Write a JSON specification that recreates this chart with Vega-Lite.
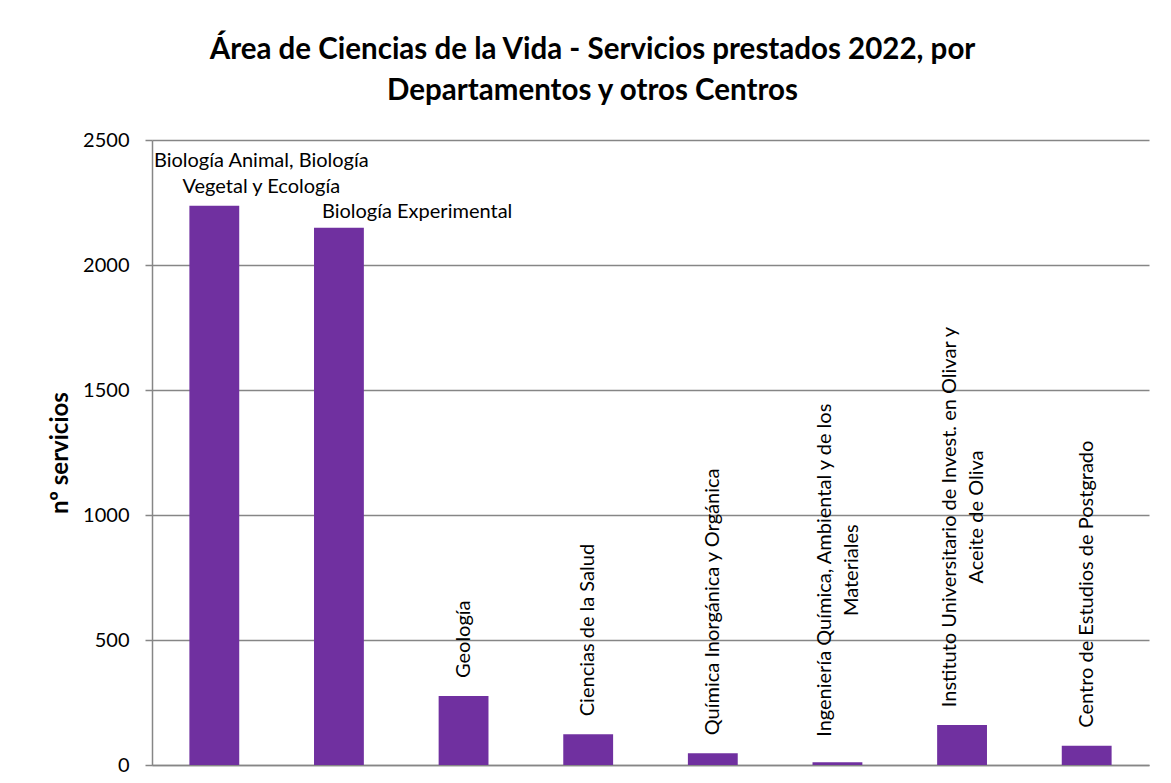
{
  "$schema": "https://vega.github.io/schema/vega-lite/v6.json",
  "width": 997,
  "height": 625,
  "autosize": {"type": "none"},
  "padding": {"left": 152, "top": 140, "right": 22, "bottom": 18},
  "background": "white",
  "config": {"view": {"stroke": null}, "font": "Lato"},
  "title": {
    "text": ["Área de Ciencias de la Vida - Servicios prestados 2022, por", "Departamentos y otros Centros"],
    "font": "Lato",
    "fontSize": 29.5,
    "fontWeight": "bold",
    "color": "#000000",
    "anchor": "middle",
    "frame": "group",
    "dx": -58,
    "lineHeight": 41,
    "offset": 24
  },
  "data": {
    "values": [
      {"dep": "Biología Animal, Biología Vegetal y Ecología", "label": "Biología Animal, Biología\nVegetal y Ecología", "n": 2237},
      {"dep": "Biología Experimental", "label": "Biología Experimental", "n": 2149},
      {"dep": "Geología", "label": "Geología", "n": 276},
      {"dep": "Ciencias de la Salud", "label": "Ciencias de la Salud", "n": 123},
      {"dep": "Química Inorgánica y Orgánica", "label": "Química Inorgánica y Orgánica", "n": 47},
      {"dep": "Ingeniería Química, Ambiental y de los Materiales", "label": "Ingeniería Química, Ambiental y de los\nMateriales", "n": 11},
      {"dep": "Instituto Universitario de Invest. en Olivar y Aceite de Oliva", "label": "Instituto Universitario de Invest. en Olivar y\nAceite de Oliva", "n": 160},
      {"dep": "Centro de Estudios de Postgrado", "label": "Centro de Estudios de Postgrado", "n": 77}
    ]
  },
  "encoding": {
    "x": {
      "field": "dep",
      "type": "nominal",
      "sort": null,
      "scale": {"paddingInner": 0.6, "paddingOuter": 0.3},
      "axis": {"labels": false, "ticks": false, "title": null, "domainColor": "#868686", "domainWidth": 1.5}
    },
    "y": {
      "field": "n",
      "type": "quantitative",
      "scale": {"domain": [0, 2500]},
      "axis": {
        "values": [0, 500, 1000, 1500, 2000, 2500],
        "format": "d",
        "title": "nº servicios",
        "titleFont": "Lato",
        "titleFontSize": 24,
        "titleFontWeight": "bold",
        "titleColor": "#000000",
        "titlePadding": 10,
        "labelFont": "Lato",
        "labelFontSize": 20,
        "labelColor": "#000000",
        "labelPadding": 16,
        "tickSize": 7,
        "tickColor": "#868686",
        "tickWidth": 1.5,
        "domainColor": "#868686",
        "domainWidth": 1.5,
        "grid": true,
        "gridColor": "#868686",
        "gridWidth": 1.5
      }
    }
  },
  "layer": [
    {"mark": {"type": "bar", "color": "#7030A0"}},
    {
      "transform": [{"filter": "datum.dep == 'Biología Animal, Biología Vegetal y Ecología'"}],
      "mark": {"type": "text", "lineBreak": "\n", "align": "center", "baseline": "alphabetic", "dx": 47, "dy": -39, "fontSize": 20, "lineHeight": 26, "color": "#000000"},
      "encoding": {"text": {"field": "label"}}
    },
    {
      "transform": [{"filter": "datum.dep == 'Biología Experimental'"}],
      "mark": {"type": "text", "align": "left", "baseline": "alphabetic", "dx": -17, "dy": -10, "fontSize": 20, "color": "#000000"},
      "encoding": {"text": {"field": "label"}}
    },
    {
      "transform": [{"filter": "indexof(['Geología','Ciencias de la Salud','Química Inorgánica y Orgánica','Centro de Estudios de Postgrado'], datum.dep) >= 0"}],
      "mark": {"type": "text", "angle": 270, "align": "left", "baseline": "middle", "dx": 18, "fontSize": 20, "color": "#000000"},
      "encoding": {"text": {"field": "label"}}
    },
    {
      "transform": [{"filter": "datum.dep == 'Ingeniería Química, Ambiental y de los Materiales'"}],
      "mark": {"type": "text", "lineBreak": "\n", "angle": 270, "align": "center", "baseline": "middle", "dx": 192, "dy": -12, "fontSize": 20, "lineHeight": 27, "color": "#000000"},
      "encoding": {"text": {"field": "label"}}
    },
    {
      "transform": [{"filter": "datum.dep == 'Instituto Universitario de Invest. en Olivar y Aceite de Oliva'"}],
      "mark": {"type": "text", "lineBreak": "\n", "angle": 270, "align": "center", "baseline": "middle", "dx": 208, "dy": -12, "fontSize": 20, "lineHeight": 27, "color": "#000000"},
      "encoding": {"text": {"field": "label"}}
    }
  ]
}
